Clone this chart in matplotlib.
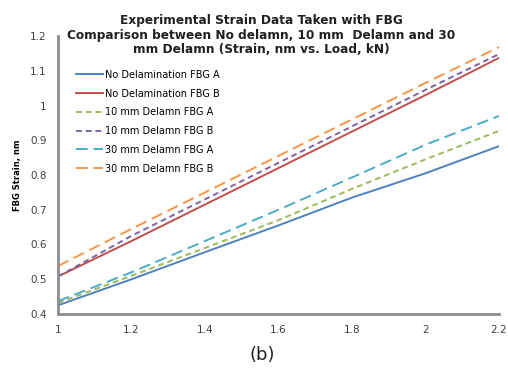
import matplotlib
matplotlib.use("Agg")
import matplotlib.pyplot as plt

load = [1.0, 1.2, 1.4, 1.6, 1.8, 2.0, 2.2]
nodel_a = [0.425, 0.500, 0.578, 0.655, 0.735, 0.805, 0.883]
nodel_b = [0.508, 0.610, 0.715, 0.820, 0.925, 1.030, 1.137]
d10_a = [0.432, 0.510, 0.590, 0.670, 0.760, 0.845, 0.927]
d10_b = [0.508, 0.625, 0.730, 0.835, 0.940, 1.045, 1.148]
d30_a = [0.437, 0.520, 0.610, 0.700, 0.793, 0.887, 0.970]
d30_b = [0.538, 0.645, 0.750, 0.855, 0.960, 1.065, 1.168]

labels = ["No Delamination FBG A", "No Delamination FBG B", "10 mm Delamn FBG A",
          "10 mm Delamn FBG B", "30 mm Delamn FBG A", "30 mm Delamn FBG B"]
colors = ["#4F81BD", "#C0504D", "#9BBB59", "#8064A2", "#4BACC6", "#F79646"]
series = [nodel_a, nodel_b, d10_a, d10_b, d30_a, d30_b]
dashes = [None, None, (3, 2), (3, 2), (6, 3), (6, 3)]

xticks = [1, 1.2, 1.4, 1.6, 1.8, 2, 2.2]
xticklabels = ["1", "1.2", "1.4", "1.6", "1.8", "2", "2.2"]
yticks = [0.4, 0.5, 0.6, 0.7, 0.8, 0.9, 1.0, 1.1, 1.2]
yticklabels = ["0.4", "0.5", "0.6", "0.7", "0.8", "0.9", "1", "1.1", "1.2"]

fig = plt.figure(figsize=(5.08, 3.74), dpi=100)
ax = fig.add_axes([58/508, 60/374, 441/508, 278/374])

for ys, lab, c, d in zip(series, labels, colors, dashes):
    if d is None:
        ax.plot(load, ys, color=c, lw=1.4, label=lab)
    else:
        ax.plot(load, ys, color=c, lw=1.4, dashes=d, label=lab)

ax.set_xlim(1, 2.2)
ax.set_ylim(0.4, 1.2)
ax.set_xticks(xticks)
ax.set_xticklabels(xticklabels)
ax.set_yticks(yticks)
ax.set_yticklabels(yticklabels)
ax.tick_params(length=0, labelsize=7.5, colors="#404040", pad=8)
for s in ["top", "right"]:
    ax.spines[s].set_visible(False)
for s in ["left", "bottom"]:
    ax.spines[s].set_color("#8C8C8C")
    ax.spines[s].set_linewidth(2)

ax.set_ylabel("FBG Strain, nm", fontsize=6, fontweight="bold", labelpad=6)

leg = ax.legend(loc="upper left", bbox_to_anchor=(0.02, 0.91), frameon=False,
                fontsize=7, handlelength=2.8, handletextpad=0.25, labelspacing=0.9)

fig.text(261/508, 1 - 14/374, "Experimental Strain Data Taken with FBG\n"
         "Comparison between No delamn, 10 mm  Delamn and 30\n"
         "mm Delamn (Strain, nm vs. Load, kN)",
         ha="center", va="top", fontsize=8.7, fontweight="bold", linespacing=1.15,
         color="#202020")
fig.text(262/508, 1 - 355/374, "(b)", ha="center", va="center", fontsize=13, color="#202020")

fig.savefig("out.png", dpi=100)
